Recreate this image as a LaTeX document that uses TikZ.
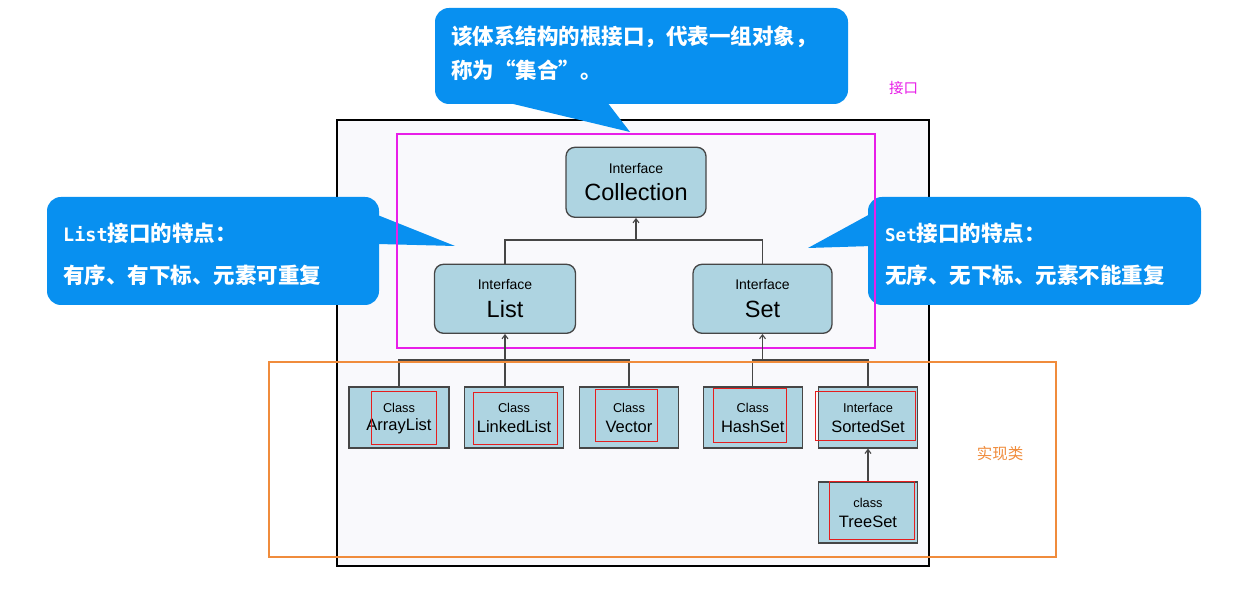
\documentclass[tikz,border=0pt]{standalone}
\usepackage{fontspec}
\setmainfont{Liberation Sans}
\newfontfamily\cjk{Noto Sans CJK SC}
\newfontfamily\mono{DejaVu Sans Mono}
\usetikzlibrary{arrows.meta}
\definecolor{callblue}{RGB}{8,144,240}
\definecolor{boxblue}{RGB}{174,212,225}
\definecolor{edgegray}{RGB}{70,70,70}
\definecolor{mag}{RGB}{232,30,232}
\definecolor{org}{RGB}{240,140,60}
\definecolor{panel}{RGB}{249,249,252}
\definecolor{redline}{RGB}{230,30,30}
\tikzset{
  ibox/.style={draw=edgegray, line width=1.3pt, fill=boxblue, rounded corners=9pt, inner sep=0pt},
  cbox/.style={draw=edgegray, line width=1.3pt, fill=boxblue, inner sep=0pt, minimum height=61pt},
  conn/.style={draw=edgegray, line width=1.1pt},
  arr/.style={conn, -{Straight Barb[length=4pt,width=6pt]}},
  tsmall/.style={inner sep=0pt, font=\fontsize{14}{16}\selectfont},
  tbig/.style={inner sep=0pt, font=\fontsize{23.5}{26}\selectfont},
  csmall/.style={inner sep=0pt, font=\fontsize{12.8}{15}\selectfont},
  cbig/.style={inner sep=0pt, font=\fontsize{16.5}{19}\selectfont},
  calltext/.style={inner sep=0pt, anchor=west, text=white, font=\cjk\bfseries\fontsize{21.5}{24}\selectfont},
  redbox/.style={draw=redline, line width=1pt},
}
\begin{document}
\begin{tikzpicture}[x=1pt,y=-1pt]
\useasboundingbox (0,0) rectangle (1259,593);
\fill[white] (0,0) rectangle (1259,593);
% panel
\draw[black, line width=1.2pt, fill=panel] (337,120) rectangle (929,566);

% callouts
\fill[callblue, rounded corners=14pt] (435,8) rectangle (848,104);
\fill[callblue] (505,102) -- (630,132) -- (607,102) -- cycle;
\fill[callblue, rounded corners=14pt] (47,197) rectangle (379,305);
\fill[callblue] (370,212) -- (455,246) -- (378,244) -- cycle;
\fill[callblue, rounded corners=14pt] (868,197) rectangle (1201,305);
\fill[callblue] (872,213) -- (808,248) -- (872,246) -- cycle;

\node[calltext] (c1a) at (451,37) {该体系结构的根接口，代表一组对象，};
\node[calltext] (c1b) at (451,70) {称为“集合”。};
\node[calltext] (c2a) at (63,233) {{\mono\fontsize{18.5}{20}\selectfont List}接口的特点：};
\node[calltext] (c2b) at (63,275) {有序、有下标、元素可重复};
\node[calltext] (c3a) at (885,233) {{\mono\fontsize{17.5}{20}\selectfont Set}接口的特点：};
\node[calltext] (c3b) at (885,275) {无序、无下标、元素不能重复};

% magenta interface frame
\draw[mag, line width=2.6pt] (397,134) rectangle (875,348);

% interface boxes
\node[ibox, minimum width=140pt, minimum height=70pt] (coll) at (636,182.3) {};
\node[tsmall] (collA) at (636,168.5) {Interface};
\node[tbig] (collB) at (636,192) {Collection};
\node[ibox, minimum width=141pt, minimum height=69pt] (list) at (505,298.8) {};
\node[tsmall] (listA) at (505,285) {Interface};
\node[tbig] (listB) at (505,309) {List};
\node[ibox, minimum width=139pt, minimum height=69pt] (set) at (762.5,298.8) {};
\node[tsmall] (setA) at (762.5,285) {Interface};
\node[tbig] (setB) at (762.5,309) {Set};

% class boxes
\node[cbox, minimum width=100pt] (al) at (399,417.5) {};
\node[cbox, minimum width=98.5pt] (ll) at (514,417.5) {};
\node[cbox, minimum width=99.5pt] (vec) at (629,417.5) {};
\node[cbox, minimum width=99pt] (hs) at (752.7,417.5) {};
\node[cbox, minimum width=99pt] (ss) at (868,417.5) {};
\node[cbox, minimum width=99pt] (ts) at (868,512.5) {};
\node[csmall] (alA) at (399,408) {Class};
\node[cbig] (alB) at (399,426.5) {ArrayList};
\node[csmall] (llA) at (514,408) {Class};
\node[cbig] (llB) at (514,426.5) {LinkedList};
\node[csmall] (vecA) at (629,408) {Class};
\node[cbig] (vecB) at (629,426.5) {Vector};
\node[csmall] (hsA) at (752.7,408) {Class};
\node[cbig] (hsB) at (752.7,426.5) {HashSet};
\node[csmall] (ssA) at (868,408) {Interface};
\node[cbig] (ssB) at (868,426.5) {SortedSet};
\node[csmall] (tsA) at (868,503) {class};
\node[cbig] (tsB) at (868,521.5) {TreeSet};

% connectors
\coordinate (j1) at (636,240);
\draw[arr] (j1) -- (coll.south);
\draw[conn] (list.north) |- (j1) -| (set.north);
\coordinate (j2) at (505,360);
\draw[arr] (j2) -- (list.south);
\draw[conn] (al.north) |- (j2) -| (vec.north);
\draw[conn] (j2) -- (j2 |- ll.north);
\coordinate (j3) at (762.5,360);
\draw[arr] (j3) -- (set.south);
\draw[conn] (hs.north) |- (j3) -| (ss.north);
\draw[arr] (ts.north) -- (ss.south);

% red highlight boxes
\draw[redbox] (371,392) rectangle (436,445);
\draw[redbox] (473,393) rectangle (557.5,445);
\draw[redbox] (595.5,390) rectangle (657,442);
\draw[redbox] (713,389) rectangle (786.5,443);
\draw[redbox] (815,392) rectangle (915.5,441);
\draw[redbox] (829,482) rectangle (914.5,539);

% orange implementation frame
\draw[org, line width=2.3pt] (269,362) rectangle (1056,557);

% labels
\node[inner sep=0pt, text=mag, font=\cjk\fontsize{14.5}{16}\selectfont] (lbl1) at (903.5,88) {接口};
\node[inner sep=0pt, text=org, font=\cjk\fontsize{15.5}{17}\selectfont] (lbl2) at (1000,454) {实现类};
\end{tikzpicture}
\end{document}
